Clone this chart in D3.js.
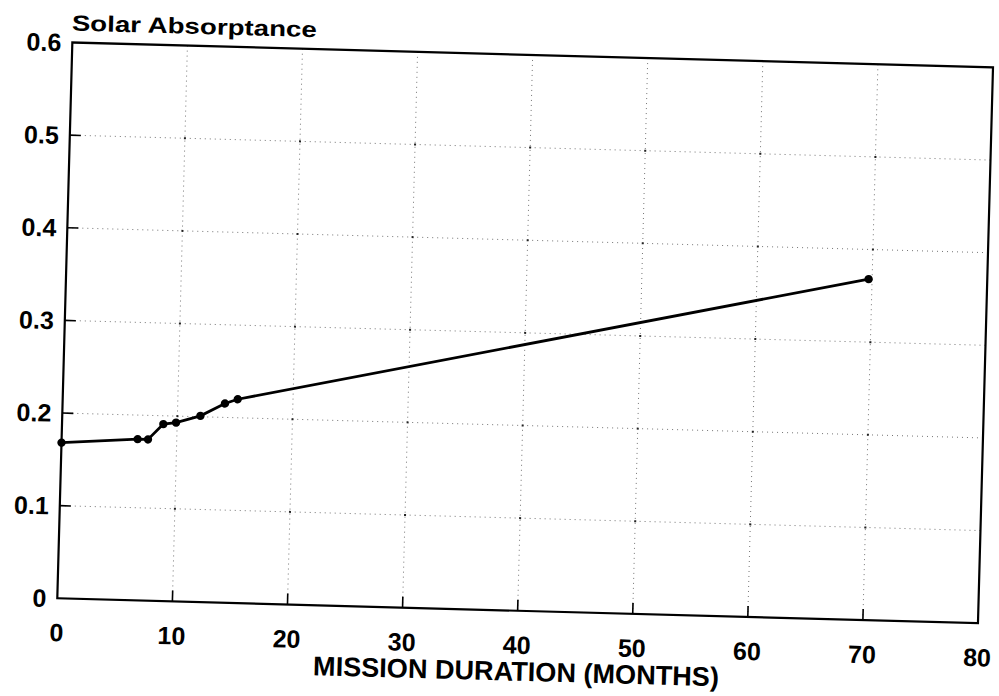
<!DOCTYPE html>
<html>
<head>
<meta charset="utf-8">
<script src="https://cdn.jsdelivr.net/npm/d3@7"></script>
<style>
  html, body { margin: 0; padding: 0; background: #fff; }
  svg { display: block; }
  text { font-family: "Liberation Sans", Arial, Helvetica, sans-serif; font-weight: bold; fill: #000; }
</style>
</head>
<body>
<svg id="chart" width="999" height="696"></svg>
<script>
// ---- data ----
const months = [0, 6.6, 7.5, 8.8, 9.9, 12.0, 14.1, 15.2, 69.7];
const absorptance = [0.168, 0.174, 0.174, 0.191, 0.193, 0.201, 0.215, 0.220, 0.368];
const xTicks = [0, 10, 20, 30, 40, 50, 60, 70, 80];
const yTicks = [0, 0.1, 0.2, 0.3, 0.4, 0.5, 0.6];
const yTickLabels = ["0", "0.1", "0.2", "0.3", "0.4", "0.5", "0.6"];
const yTitle = "Solar Absorptance";
const xTitle = "MISSION DURATION (MONTHS)";

const svg = d3.select("#chart");
const W = 921, H = 556;
// scanned page is slightly rotated; draw plot in a rotated frame
const g = svg.append("g").attr("transform", "translate(57.3,598.3) rotate(1.55)");

const x = d3.scaleLinear().domain([0, 80]).range([0, W]);
const y = d3.scaleLinear().domain([0, 0.6]).range([0, -H]);

// grid lines (dotted)
g.append("g").selectAll("line.vg").data(xTicks.slice(1, -1)).join("line")
  .attr("x1", d => x(d)).attr("x2", d => x(d))
  .attr("y1", y(0)).attr("y2", y(0.6))
  .attr("stroke", "#666").attr("stroke-width", 0.9).attr("stroke-dasharray", "1,4");
g.append("g").selectAll("line.hg").data(yTicks.slice(1, -1)).join("line")
  .attr("x1", x(0)).attr("x2", x(80))
  .attr("y1", d => y(d)).attr("y2", d => y(d))
  .attr("stroke", "#666").attr("stroke-width", 0.9).attr("stroke-dasharray", "1,4");

// grid intersection dots
const inter = [];
xTicks.slice(1, -1).forEach(a => yTicks.slice(1, -1).forEach(b => inter.push([a, b])));
g.append("g").selectAll("rect").data(inter).join("rect")
  .attr("x", d => x(d[0]) - 1).attr("y", d => y(d[1]) - 1)
  .attr("width", 2).attr("height", 2).attr("fill", "#222");

// inward ticks
g.append("g").selectAll("line").data(xTicks.slice(1, -1)).join("line")
  .attr("x1", d => x(d)).attr("x2", d => x(d))
  .attr("y1", y(0)).attr("y2", y(0) - 11)
  .attr("stroke", "#000").attr("stroke-width", 1.6);
g.append("g").selectAll("line").data(yTicks.slice(1, -1)).join("line")
  .attr("x1", x(0)).attr("x2", x(0) + 11)
  .attr("y1", d => y(d)).attr("y2", d => y(d))
  .attr("stroke", "#000").attr("stroke-width", 1.6);

// frame
g.append("rect")
  .attr("x", x(0)).attr("y", y(0.6))
  .attr("width", x(80) - x(0)).attr("height", y(0) - y(0.6))
  .attr("fill", "none").attr("stroke", "#000").attr("stroke-width", 2.2);

// x tick labels
g.append("g").selectAll("text").data(xTicks).join("text")
  .attr("x", d => x(d)).attr("y", y(0) + 43)
  .attr("text-anchor", "middle").attr("font-size", 25)
  .text(d => d);

// y tick labels
g.append("g").selectAll("text").data(yTicks).join("text")
  .attr("x", x(0) - 11).attr("y", d => y(d) + 9)
  .attr("text-anchor", "end").attr("font-size", 25)
  .text((d, i) => yTickLabels[i]);

// titles
g.append("text")
  .attr("x", x(0) - 1).attr("y", y(0.6) - 12)
  .attr("font-size", 22).attr("textLength", 245).attr("lengthAdjust", "spacingAndGlyphs")
  .text(yTitle);
g.append("text")
  .attr("x", x(40)).attr("y", y(0) + 70)
  .attr("text-anchor", "middle").attr("font-size", 27)
  .attr("textLength", 406).attr("lengthAdjust", "spacingAndGlyphs")
  .text(xTitle);

// data line
const pts = months.map((m, i) => [m, absorptance[i]]);
g.append("path").datum(pts)
  .attr("d", d3.line().x(d => x(d[0])).y(d => y(d[1])))
  .attr("fill", "none").attr("stroke", "#000").attr("stroke-width", 2.8);
g.append("g").selectAll("circle").data(pts).join("circle")
  .attr("cx", d => x(d[0])).attr("cy", d => y(d[1])).attr("r", 4.2)
  .attr("fill", "#000");
</script>
</body>
</html>
